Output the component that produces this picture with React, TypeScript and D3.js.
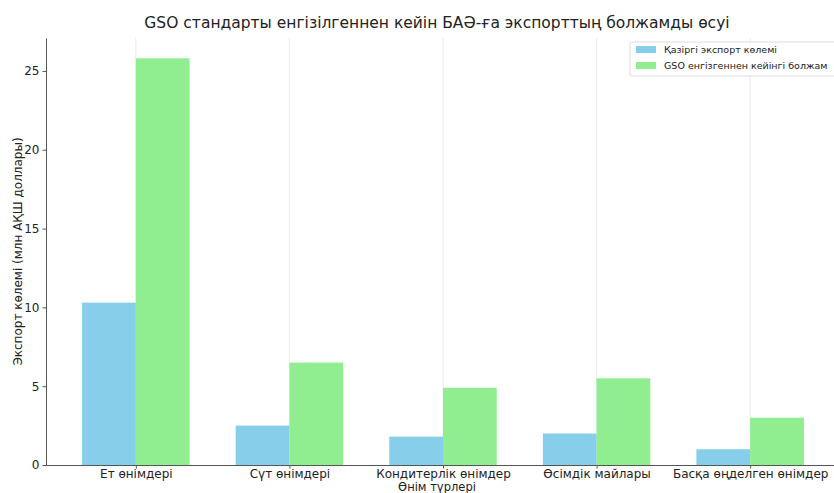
import React, { useEffect, useRef } from "react";
import * as d3 from "d3";

const categories = [
  "Ет өнімдері",
  "Сүт өнімдері",
  "Кондитерлік өнімдер",
  "Өсімдік майлары",
  "Басқа өңделген өнімдер",
];
const currentExport = [10.3, 2.5, 1.8, 2.0, 1.0];
const forecastExport = [25.8, 6.5, 4.9, 5.5, 3.0];
const yTicks = [0, 5, 10, 15, 20, 25];
const seriesNames = ["Қазіргі экспорт көлемі", "GSO енгізгеннен кейінгі болжам"];
const colors = ["#87CEEB", "#90EE90"];

export default function App() {
  const ref = useRef(null);

  useEffect(() => {
    const svg = d3.select(ref.current);
    svg.selectAll("*").remove();

    const left = 46;
    const right = 840;
    const top = 38;
    const bottom = 465;
    const barW = 0.35;
    const font = "DejaVu Sans, sans-serif";

    const x = d3.scaleLinear().domain([-0.585, 4.585]).range([left, right]);
    const y = d3
      .scaleLinear()
      .domain([0, d3.max(forecastExport) * 1.05])
      .range([bottom, top]);

    // vertical grid
    svg
      .append("g")
      .selectAll("line")
      .data(categories)
      .join("line")
      .attr("x1", (d, i) => x(i))
      .attr("x2", (d, i) => x(i))
      .attr("y1", top)
      .attr("y2", bottom)
      .attr("stroke", "#e6e6e6")
      .attr("stroke-width", 0.8);

    // bars
    const series = [currentExport, forecastExport];
    series.forEach((vals, s) => {
      svg
        .append("g")
        .selectAll("rect")
        .data(vals)
        .join("rect")
        .attr("x", (d, i) => x(i + (s === 0 ? -barW : 0)))
        .attr("width", x(barW) - x(0))
        .attr("y", (d) => y(d))
        .attr("height", (d) => y(0) - y(d))
        .attr("fill", colors[s]);
    });

    // x axis
    const xAxis = svg
      .append("g")
      .attr("transform", "translate(0," + bottom + ")")
      .call(
        d3
          .axisBottom(x)
          .tickValues(d3.range(categories.length))
          .tickFormat((i) => categories[i])
          .tickSize(3.5)
          .tickSizeOuter(0)
      );
    xAxis.select(".domain").attr("stroke", "#555");
    xAxis.selectAll(".tick line").attr("stroke", "#555");
    xAxis
      .selectAll("text")
      .attr("font-family", font)
      .attr("font-size", 12)
      .attr("fill", "#222")
      .attr("y", 4)
      .attr("dy", "0.75em");

    // y axis
    const yAxis = svg
      .append("g")
      .attr("transform", "translate(" + left + ",0)")
      .call(d3.axisLeft(y).tickValues(yTicks).tickSize(3.5).tickSizeOuter(0));
    yAxis.select(".domain").attr("stroke", "#555");
    yAxis.selectAll(".tick line").attr("stroke", "#555");
    yAxis
      .selectAll("text")
      .attr("font-family", font)
      .attr("font-size", 12)
      .attr("fill", "#222");

    // title
    svg
      .append("text")
      .attr("x", 437)
      .attr("y", 28)
      .attr("text-anchor", "middle")
      .attr("font-family", font)
      .attr("font-size", 15.5)
      .attr("fill", "#222")
      .text("GSO стандарты енгізілгеннен кейін БАӘ-ға экспорттың болжамды өсуі");

    // axis labels
    svg
      .append("text")
      .attr("x", 437)
      .attr("y", 491)
      .attr("text-anchor", "middle")
      .attr("font-family", font)
      .attr("font-size", 11.5)
      .attr("fill", "#222")
      .text("Өнім түрлері");

    svg
      .append("text")
      .attr("transform", "translate(22," + (top + bottom) / 2 + ") rotate(-90)")
      .attr("text-anchor", "middle")
      .attr("font-family", font)
      .attr("font-size", 12)
      .attr("fill", "#222")
      .text("Экспорт көлемі (млн АҚШ доллары)");

    // legend
    const lg = svg.append("g").attr("transform", "translate(630,42)");
    lg.append("rect")
      .attr("width", 220)
      .attr("height", 34)
      .attr("rx", 2)
      .attr("fill", "white")
      .attr("fill-opacity", 0.85)
      .attr("stroke", "#ddd");
    seriesNames.forEach((name, i) => {
      lg.append("rect")
        .attr("x", 6)
        .attr("y", 4 + i * 16)
        .attr("width", 20)
        .attr("height", 7)
        .attr("fill", colors[i]);
      lg.append("text")
        .attr("x", 34)
        .attr("y", 11 + i * 16)
        .attr("font-family", font)
        .attr("font-size", 9.5)
        .attr("fill", "#222")
        .text(name);
    });
  }, []);

  return <svg ref={ref} width={834} height={493} style={{ position: "absolute", left: 0, top: 0, background: "white" }} />;
}
